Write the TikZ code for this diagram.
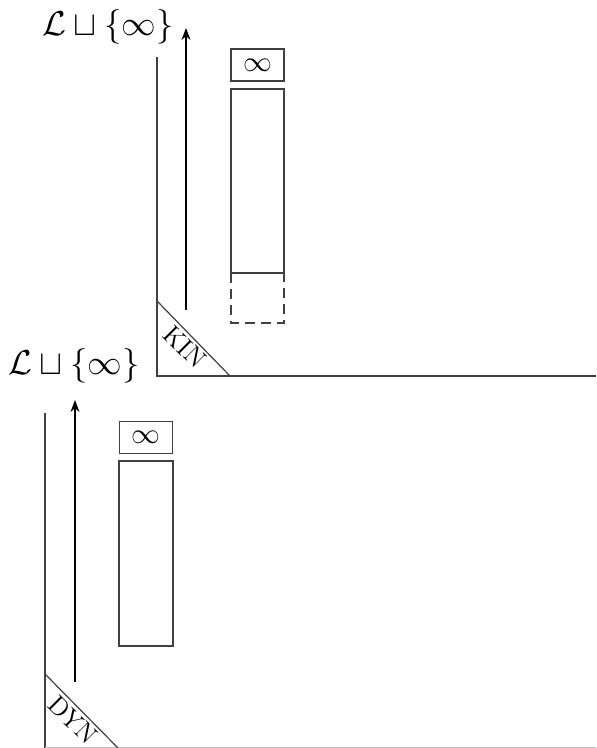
\documentclass[tikz,border=0pt]{standalone}
\usetikzlibrary{arrows.meta}
\begin{document}
\begin{tikzpicture}[x=0.5pt,y=-0.5pt,
  ln/.style={draw=black!75, line width=0.6pt},
  arr/.style={draw=black, line width=0.6pt, -{Stealth[length=6pt,width=4.5pt]}},
  infbox/.style={draw=black!75, line width=0.6pt, minimum width=26.5pt, minimum height=16pt, inner sep=0pt, font=\Large},
  lbl/.style={font=\fontsize{16}{19}\selectfont, inner sep=0pt},
  tag/.style={font=\fontsize{13}{15}\selectfont, inner sep=0pt, rotate=-45}]
\useasboundingbox (0,0) rectangle (596,748);
% ---------- top panel ----------
\coordinate (tvtop) at (157,57);
\coordinate (tcorner) at (157,376);
\coordinate (tdiagA) at (157,301);
\coordinate (tdiagB) at (230,376);
\coordinate (tright) at (596,376);
\coordinate (tarrS) at (186,310);
\coordinate (tarrE) at (186,28);
\node[lbl] (tlabel) at (108,27) {$\mathcal{L}\sqcup\{\infty\}$};
\draw[ln] (tvtop) -- (tcorner) -- (tright);
\draw[ln] (tdiagA) -- (tdiagB);
\draw[arr] (tarrS) -- (tarrE);
\node[tag] (kin) at (185,347) {KIN};
\node[infbox] (tinf) at (257.5,65) {$\infty$};
\draw[ln] (231,273) rectangle (284,89);
\draw[ln, dashed, dash pattern=on 5pt off 3pt] (231,273) -- (231,323) -- (284,323) -- (284,273);
% ---------- bottom panel ----------
\coordinate (bvtop) at (45,413);
\coordinate (bcorner) at (45,747.5);
\coordinate (bright) at (596,747.5);
\coordinate (bdiagA) at (45,674);
\coordinate (bdiagB) at (118,748);
\coordinate (barrS) at (75,682);
\coordinate (barrE) at (75,400);
\node[lbl] (blabel) at (74,366) {$\mathcal{L}\sqcup\{\infty\}$};
\draw[ln] (bvtop) -- (bcorner);
\draw[black!25, line width=0.6pt] (bcorner) -- (bright);
\draw[ln] (bdiagA) -- (bdiagB);
\draw[arr] (barrS) -- (barrE);
\node[tag] (dyn) at (73,720) {DYN};
\node[infbox] (binf) at (146,437.5) {$\infty$};
\draw[ln] (119,461) rectangle (173,646);
\end{tikzpicture}
\end{document}
